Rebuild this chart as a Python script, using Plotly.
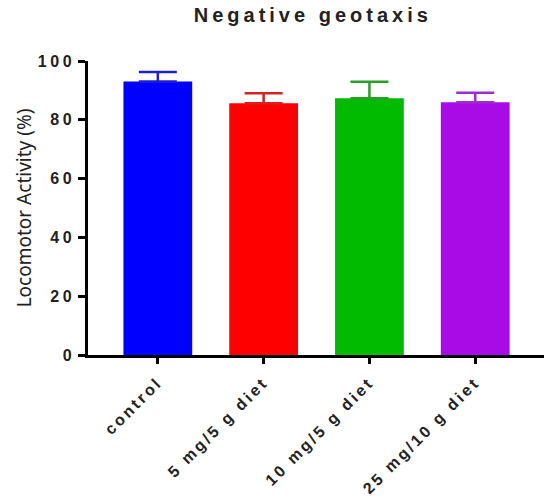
import plotly.graph_objects as go

categories = ["control", "5 mg/5 g diet", "10 mg/5 g diet", "25 mg/10 g diet"]
values = [93.0, 85.6, 87.3, 86.0]
errors = [3.3, 3.4, 5.6, 3.2]
colors = ["#0000FF", "#FF0000", "#00BB00", "#A80BE6"]
err_colors = ["#1F1FD6", "#D92020", "#27A027", "#9A2ED0"]

fig = go.Figure()
for c, v, e, col, ecol in zip(categories, values, errors, colors, err_colors):
    fig.add_trace(go.Bar(
        x=[c], y=[v], width=0.65,
        marker=dict(color=col, line=dict(width=0)),
        error_y=dict(type="data", symmetric=False, array=[e], arrayminus=[0],
                     color=ecol, thickness=2.5, width=19),
        showlegend=False,
    ))

fig.update_layout(
    width=544, height=500,
    margin=dict(l=88, r=0, t=61, b=145),
    paper_bgcolor="white", plot_bgcolor="white",
    title=dict(text="<b>Negative geotaxis</b>", x=0.575, xanchor="center",
               y=0.97, yanchor="middle",
               font=dict(family="Liberation Sans, Arial", size=20, color="#222")),
    bargap=0.35,
)
fig.update_xaxes(
    range=[-0.66, 3.65], showline=True, linecolor="black", linewidth=2.5,
    ticks="outside", ticklen=6, tickwidth=2.5, tickcolor="black",
    tickangle=-45, showgrid=False, zeroline=False, ticklabelstandoff=3,
    tickfont=dict(family="Liberation Sans, Arial", size=16, color="#222", weight="bold"),
)
fig.update_yaxes(
    range=[0, 100], tickvals=[0, 20, 40, 60, 80, 100],
    showline=True, linecolor="black", linewidth=2.5,
    ticks="outside", ticklen=7, tickwidth=2.5, tickcolor="black",
    showgrid=False, zeroline=False, ticklabelstandoff=0,
    tickfont=dict(family="Liberation Sans, Arial", size=16, color="#222", weight="bold"),
    title=dict(text="Locomotor Activity (%)", standoff=12,
               font=dict(family="Noto Sans, Open Sans", size=19, color="#222")),
)

post = """
document.body.style.margin='0';
var gd = document.getElementById('{plot_id}');
gd.querySelectorAll('.xtick text').forEach(function(t){t.style.letterSpacing='2.8px';});
gd.querySelectorAll('.ytick text').forEach(function(t){t.style.letterSpacing='3.5px';});
gd.querySelectorAll('.gtitle').forEach(function(t){t.style.letterSpacing='4px';});
"""

fig.write_html("out.html", config={"displayModeBar": False}, post_script=post)
